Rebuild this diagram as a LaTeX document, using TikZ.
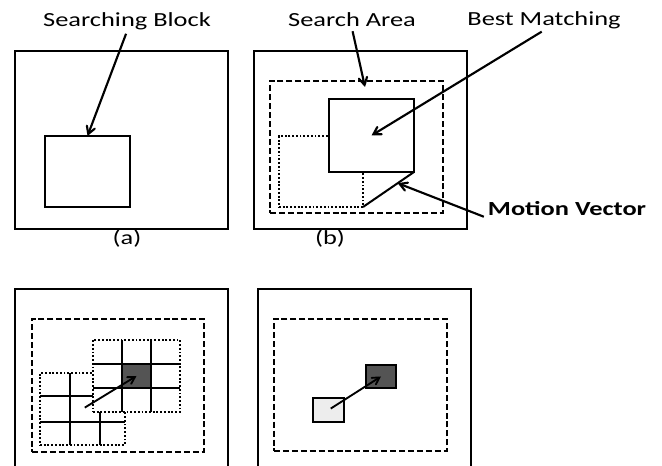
\documentclass[tikz,border=0pt]{standalone}
\usepackage{fontspec}
\newfontfamily\lblfont[FakeStretch=1.32]{Carlito}
\usetikzlibrary{arrows}
\tikzset{wh/.style 2 args={minimum width=#1*0.75pt,minimum height=#2*0.75pt}}

\begin{document}
\begin{tikzpicture}[x=0.75pt,y=-0.75pt,>=angle 60]

  \tikzstyle{frame}=[rectangle,draw=black,line width=2.2pt,inner sep=0pt,outer sep=0pt]
  \tikzstyle{area}=[rectangle,draw=black,line width=1.6pt,dash pattern=on 4.5pt off 2.2pt,inner sep=0pt,outer sep=0pt]
  \tikzstyle{block}=[rectangle,draw=black,line width=1.5pt,fill=white,inner sep=0pt,outer sep=0pt]
  \tikzstyle{moved}=[rectangle,draw=black,line width=1.4pt,dash pattern=on 1.4pt off 1.4pt,inner sep=0pt,outer sep=0pt]
  \tikzstyle{gridline}=[line width=2.2pt]
  \tikzstyle{lbl}=[font=\lblfont\fontsize{15pt}{18pt}\selectfont,inner sep=1pt]
  \tikzstyle{pointer}=[->,line width=1.6pt,shorten <=2pt]

  \clip (0,0) rectangle (662,466);

\begin{scope}
  \node[frame,wh={213}{178}]  (outA)   at (121.5,140) {};
  \node[block,wh={85}{71}]    (sblock) at (87.5,171.5) {};
  \node[lbl] (sbtext) at (127,21) {Searching Block};
  \draw[pointer] (sbtext.south) -- (sblock.north);
  \node[lbl] (capA) at (127,239) {(a)};
\end{scope}

\begin{scope}
  \node[frame,wh={213}{178}]  (outB)   at (360.5,140) {};
  \node[area,wh={173}{132}]   (areaB)  at (356.5,147) {};
  \node[moved,wh={84}{71}]    (origin) at (321,171.5) {};
  \node[block,wh={85}{73}]    (best)   at (371.5,135.5) {};
  \draw[line width=1.5pt] (origin.south east) -- coordinate[pos=0.68] (mvtip) (best.south east);
  \coordinate (satip) at (365,87);
  \node[lbl] (satext) at (352,20) {Search Area};
  \node[lbl] (bmtext) at (544,20) {Best Matching};
  \node[lbl] (mvtext) at (567,209) {\bfseries Motion Vector};
  \draw[pointer] (satext.south) -- (satip);
  \draw[pointer] (bmtext.south) -- (best.center);
  \draw[pointer] (mvtext.south west) -- (mvtip);
  \node[lbl] (capB) at (330,239) {(b)};
\end{scope}

\begin{scope}
  \node[frame,line width=1.7pt,wh={213}{200}] (outC)  at (121.5,389) {};
  \node[area,wh={172}{133}]                   (areaC) at (118,385.5) {};
  \node[moved,wh={85}{72}]                    (lowC)  at (82.5,409) {};
  \foreach \gx in {70,100} \draw[gridline] (\gx,373) -- (\gx,445);
  \foreach \gy in {396,422} \draw[gridline] (40,\gy) -- (125,\gy);
  \node[moved,fill=white,wh={87}{72}]         (upC)   at (136.5,376) {};
  \node[fill=black!67,inner sep=0pt,wh={29}{24}] (hitC) at (136.5,376) {};
  \foreach \gx in {122,151} \draw[gridline] (\gx,340) -- (\gx,412);
  \foreach \gy in {364,388} \draw[gridline] (93,\gy) -- (180,\gy);
  \draw[pointer,line width=1.4pt] (lowC.center) -- (hitC.center);
\end{scope}

\begin{scope}
  \node[frame,line width=1.7pt,wh={213}{200}] (outD)   at (364.5,389) {};
  \node[area,wh={173}{132}]                   (areaD)  at (360.5,385) {};
  \node[block,fill=black!7,wh={31}{24}]       (startD) at (328.5,410) {};
  \node[block,fill=black!67,wh={30}{23}]      (hitD)   at (381,376.5) {};
  \draw[pointer,line width=1.4pt] (startD.center) -- (hitD.center);
\end{scope}

\end{tikzpicture}
\end{document}
